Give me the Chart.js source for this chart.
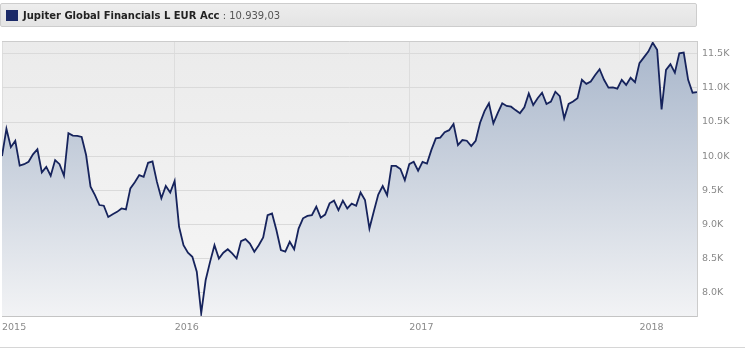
<!DOCTYPE html>
<html>
<head>
<meta charset="utf-8">
<script src="https://cdn.jsdelivr.net/npm/chart.js@4"></script>
<style>
    body { margin: 0; background: #ffffff; width: 747px; height: 350px; overflow: hidden; position: relative; }
    #header {
        position: absolute; left: 0; top: 3px; width: 695px; height: 22px;
        background: linear-gradient(#ededed, #e4e4e4);
        border: 1px solid #cdcdcd; border-radius: 2px;
        font-family: "DejaVu Sans", sans-serif; font-size: 10px; line-height: 23px;
        color: #222;
    }
    #header .swatch { position: absolute; left: 5px; top: 6px; width: 12px; height: 11px; background: #1b2a68; }
    #header .name { position: absolute; left: 22px; top: 0; font-weight: bold; white-space: nowrap; }
    #header .value { color: #555; font-weight: normal; }
    #chartBox { position: absolute; left: 0; top: 0; width: 747px; height: 350px; }
    #bottomLine { position: absolute; left: 0; top: 347px; width: 745px; height: 1px; background: #d6d6d6; }
</style>
</head>
<body>
<div id="chartBox"><canvas id="fundChart" width="747" height="350"></canvas></div>
<div id="header"><div class="swatch"></div><div class="name"><span id="seriesName"></span><span class="value" id="seriesValue"></span></div></div>
<div id="bottomLine"></div>
<script>
const seriesName = 'Jupiter Global Financials L EUR Acc';

// weekly closing values
const fundValues = [
    10000, 10400, 10130, 10225, 9860, 9880, 9915, 10025, 10100, 9760,
    9840, 9710, 9940, 9880, 9710, 10335, 10300, 10295, 10280, 10015,
    9550, 9425, 9280, 9270, 9105, 9145, 9180, 9230, 9215, 9525,
    9615, 9720, 9695, 9900, 9920, 9620, 9380, 9560, 9465, 9635,
    8960, 8690, 8580, 8520, 8300, 7690, 8175, 8445, 8690, 8495,
    8580, 8630, 8570, 8495, 8750, 8780, 8715, 8595, 8690, 8805,
    9130, 9155, 8910, 8620, 8595, 8740, 8630, 8935, 9085, 9120,
    9130, 9255, 9095, 9140, 9305, 9345, 9205, 9345, 9230, 9300,
    9270, 9465, 9355, 8935, 9190, 9435, 9560, 9425, 9855, 9855,
    9810, 9645, 9880, 9915, 9785, 9915, 9890, 10090, 10260, 10270,
    10350, 10380, 10470, 10160, 10235, 10225, 10145, 10225, 10490, 10660,
    10775, 10480, 10635, 10775, 10735, 10725, 10675, 10630, 10715, 10920,
    10750, 10850, 10930, 10765, 10800, 10945, 10880, 10555, 10765, 10800,
    10850, 11120, 11060, 11095, 11190, 11275, 11120, 11005, 11010, 10990,
    11120, 11045, 11150, 11085, 11365, 11450, 11535, 11665, 11560, 10685,
    11265, 11350, 11225, 11510, 11520, 11120, 10930, 10939.03
];

// week index where each year label sits
const yearLabels = ['2015', '2016', '2017', '2018'];
const yearTickWeeks = [0, 39, 92, 144];

const yTickValues = [8000, 8500, 9000, 9500, 10000, 10500, 11000, 11500];
const yMin = 7650;
const yMax = 11690;

function formatDe(v) {
    const parts = v.toFixed(2).split('.');
    const intPart = parts[0].replace(/\B(?=(\d{3})+(?!\d))/g, '.');
    return intPart + ',' + parts[1];
}

document.getElementById('seriesName').textContent = seriesName;
document.getElementById('seriesValue').textContent = ' : ' + formatDe(fundValues[fundValues.length - 1]);

const plotFrame = {
    id: 'plotFrame',
    beforeDraw(chart) {
        const { ctx, chartArea: a } = chart;
        const g = ctx.createLinearGradient(0, a.top, 0, a.bottom);
        g.addColorStop(0, '#ebebeb');
        g.addColorStop(1, '#f6f6f6');
        ctx.save();
        ctx.fillStyle = g;
        ctx.fillRect(a.left, a.top, a.right - a.left, a.bottom - a.top);
        ctx.restore();
    },
    afterDraw(chart) {
        const { ctx, chartArea: a } = chart;
        ctx.save();
        ctx.strokeStyle = '#cccccc';
        ctx.lineWidth = 1;
        ctx.beginPath();
        ctx.moveTo(a.left, a.top + 0.5);
        ctx.lineTo(a.right, a.top + 0.5);
        ctx.stroke();
        ctx.restore();
    }
};

const ctx = document.getElementById('fundChart').getContext('2d');
const fundChart = new Chart(ctx, {
    type: 'line',
    data: {
        datasets: [{
            label: seriesName,
            data: fundValues.map((v, i) => ({ x: i, y: v })),
            borderColor: '#16235c',
            borderWidth: 1.8,
            pointRadius: 0,
            tension: 0,
            fill: 'start',
            backgroundColor: function(context) {
                const a = context.chart.chartArea;
                if (!a) return 'rgba(170,182,202,0.6)';
                const g = context.chart.ctx.createLinearGradient(0, a.top, 0, a.bottom);
                g.addColorStop(0, '#a8b6cb');
                g.addColorStop(0.45, '#c9d1dd');
                g.addColorStop(1, '#f2f3f5');
                return g;
            }
        }]
    },
    options: {
        responsive: false,
        animation: false,
        layout: { padding: { top: 41, left: 2, right: 0, bottom: 3 } },
        plugins: {
            legend: { display: false },
            tooltip: { enabled: false }
        },
        scales: {
            x: {
                type: 'linear',
                min: 0,
                max: fundValues.length - 1,
                afterBuildTicks: scale => { scale.ticks = yearTickWeeks.map(v => ({ value: v })); },
                afterFit: scale => {
                    scale.height = 31;
                    scale.paddingLeft = 0;
                    scale.paddingRight = 0;
                },
                grid: { color: '#dddddd', drawTicks: false },
                border: { color: '#c4c4c4' },
                ticks: {
                    align: 'start',
                    padding: 6,
                    maxRotation: 0,
                    autoSkip: false,
                    color: '#8a8a8a',
                    font: { family: 'DejaVu Sans', size: 9.5 },
                    callback: value => yearLabels[yearTickWeeks.indexOf(value)]
                }
            },
            y: {
                position: 'right',
                min: yMin,
                max: yMax,
                afterBuildTicks: scale => { scale.ticks = yTickValues.map(v => ({ value: v })); },
                afterFit: scale => {
                    scale.width = 50;
                    scale.paddingTop = 0;
                    scale.paddingBottom = 0;
                },
                grid: { color: '#dadada', drawTicks: false },
                border: { color: '#cccccc' },
                ticks: {
                    padding: 5,
                    autoSkip: false,
                    color: '#8a8a8a',
                    font: { family: 'DejaVu Sans', size: 9.5 },
                    callback: value => (value / 1000).toFixed(1) + 'K'
                }
            }
        }
    },
    plugins: [plotFrame]
});
</script>
</body>
</html>
